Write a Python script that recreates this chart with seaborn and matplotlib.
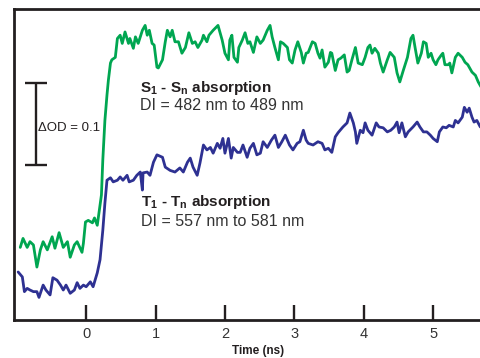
import seaborn as sns
import matplotlib.pyplot as plt
import pandas as pd

# S1-Sn trace (482-489 nm), time in ns, dOD
s1_time = [-0.95, -0.91, -0.85, -0.81, -0.76, -0.71, -0.66, -0.62, -0.56, -0.49,
           -0.45, -0.39, -0.33, -0.27, -0.23, -0.17, -0.13, -0.06, -0.04, -0.01,
           0.03, 0.09, 0.12, 0.16, 0.19, 0.22, 0.24, 0.27, 0.30, 0.32,
           0.35, 0.37, 0.42, 0.45, 0.49, 0.52, 0.56, 0.61, 0.63, 0.68,
           0.71, 0.75, 0.81, 0.85, 0.88, 0.91, 0.95, 0.98, 1.02, 1.04,
           1.10, 1.14, 1.17, 1.21, 1.24, 1.28, 1.33, 1.38, 1.43, 1.46,
           1.48, 1.53, 1.57, 1.61, 1.67, 1.69, 1.74, 1.77, 1.83, 1.90,
           1.96, 2.00, 2.05, 2.07, 2.10, 2.13, 2.18, 2.20, 2.25, 2.29,
           2.33, 2.36, 2.41, 2.46, 2.51, 2.55, 2.61, 2.65, 2.68, 2.72,
           2.77, 2.80, 2.84, 2.90, 2.93, 2.97, 3.01, 3.05, 3.10, 3.13,
           3.17, 3.20, 3.26, 3.30, 3.34, 3.37, 3.40, 3.44, 3.49, 3.52,
           3.54, 3.59, 3.63, 3.67, 3.72, 3.76, 3.79, 3.83, 3.88, 3.92,
           3.98, 4.02, 4.06, 4.09, 4.12, 4.16, 4.21, 4.24, 4.28, 4.34,
           4.38, 4.44, 4.48, 4.52, 4.57, 4.63, 4.65, 4.68, 4.71, 4.74,
           4.78, 4.83, 4.86, 4.90, 4.93, 4.97, 5.00, 5.04, 5.07, 5.12,
           5.14, 5.17, 5.22, 5.24, 5.27, 5.32, 5.36, 5.42, 5.46, 5.50,
           5.56, 5.61, 5.65, 5.69]
s1_od = [0.052, 0.063, 0.052, 0.059, 0.055, 0.028, 0.049, 0.059, 0.049, 0.065,
         0.051, 0.070, 0.052, 0.059, 0.040, 0.055, 0.059, 0.046, 0.057, 0.083,
         0.085, 0.082, 0.088, 0.079, 0.098, 0.116, 0.159, 0.207, 0.238, 0.256,
         0.277, 0.281, 0.284, 0.307, 0.311, 0.301, 0.315, 0.301, 0.307, 0.295,
         0.309, 0.301, 0.317, 0.323, 0.311, 0.317, 0.301, 0.299, 0.272, 0.271,
         0.281, 0.303, 0.317, 0.309, 0.317, 0.303, 0.303, 0.289, 0.296, 0.307,
         0.314, 0.301, 0.303, 0.296, 0.305, 0.311, 0.303, 0.311, 0.317, 0.323,
         0.305, 0.289, 0.281, 0.305, 0.311, 0.284, 0.278, 0.296, 0.305, 0.314,
         0.301, 0.303, 0.290, 0.309, 0.301, 0.305, 0.317, 0.323, 0.309, 0.296,
         0.281, 0.303, 0.301, 0.296, 0.281, 0.277, 0.293, 0.303, 0.290, 0.277,
         0.289, 0.290, 0.303, 0.301, 0.289, 0.283, 0.293, 0.272, 0.278, 0.290,
         0.289, 0.268, 0.281, 0.283, 0.287, 0.266, 0.268, 0.281, 0.296, 0.277,
         0.275, 0.284, 0.296, 0.299, 0.289, 0.295, 0.289, 0.277, 0.266, 0.281,
         0.290, 0.284, 0.265, 0.254, 0.268, 0.284, 0.293, 0.307, 0.311, 0.296,
         0.277, 0.289, 0.303, 0.301, 0.284, 0.289, 0.281, 0.275, 0.281, 0.287,
         0.289, 0.275, 0.275, 0.277, 0.265, 0.284, 0.289, 0.284, 0.278, 0.275,
         0.266, 0.262, 0.254, 0.248]

# T1-Tn trace (557-581 nm)
t1_time = [-0.98, -0.92, -0.89, -0.85, -0.81, -0.76, -0.71, -0.68, -0.62, -0.58,
           -0.52, -0.48, -0.42, -0.37, -0.33, -0.29, -0.23, -0.17, -0.13, -0.09,
           -0.04, 0.00, 0.06, 0.10, 0.16, 0.20, 0.24, 0.27, 0.30, 0.35,
           0.39, 0.45, 0.49, 0.53, 0.59, 0.62, 0.68, 0.73, 0.78, 0.81,
           0.82, 0.88, 0.92, 0.97, 1.02, 1.10, 1.14, 1.21, 1.28, 1.35,
           1.40, 1.46, 1.50, 1.54, 1.60, 1.64, 1.69, 1.74, 1.79, 1.83,
           1.89, 1.93, 1.97, 2.00, 2.05, 2.09, 2.12, 2.18, 2.22, 2.26,
           2.32, 2.36, 2.41, 2.46, 2.51, 2.55, 2.61, 2.67, 2.72, 2.77,
           2.82, 2.87, 2.93, 2.98, 3.04, 3.08, 3.13, 3.17, 3.20, 3.27,
           3.34, 3.40, 3.44, 3.49, 3.54, 3.59, 3.63, 3.70, 3.76, 3.80,
           3.85, 3.88, 3.90, 3.95, 3.99, 4.02, 4.06, 4.12, 4.18, 4.22,
           4.28, 4.34, 4.39, 4.44, 4.48, 4.51, 4.55, 4.60, 4.64, 4.71,
           4.77, 4.81, 4.86, 4.91, 4.96, 5.00, 5.06, 5.09, 5.14, 5.19,
           5.23, 5.29, 5.32, 5.36, 5.42, 5.45, 5.49, 5.52, 5.56, 5.59,
           5.63, 5.68]
t1_od = [0.022, 0.016, -0.002, 0.002, 0.000, -0.002, -0.002, -0.009, 0.006, 0.000,
         -0.006, 0.015, 0.012, 0.006, 0.000, 0.006, -0.004, 0.000, 0.009, 0.002,
         0.006, 0.004, 0.010, 0.004, 0.021, 0.037, 0.073, 0.106, 0.134, 0.137,
         0.132, 0.134, 0.138, 0.134, 0.140, 0.132, 0.134, 0.140, 0.144, 0.122,
         0.143, 0.144, 0.140, 0.156, 0.165, 0.162, 0.150, 0.146, 0.144, 0.149,
         0.144, 0.156, 0.161, 0.150, 0.140, 0.155, 0.177, 0.171, 0.174, 0.167,
         0.179, 0.173, 0.185, 0.167, 0.185, 0.161, 0.174, 0.168, 0.168, 0.177,
         0.162, 0.173, 0.179, 0.165, 0.167, 0.181, 0.174, 0.183, 0.189, 0.174,
         0.181, 0.189, 0.177, 0.171, 0.179, 0.181, 0.195, 0.183, 0.179, 0.177,
         0.181, 0.179, 0.171, 0.173, 0.168, 0.187, 0.192, 0.199, 0.204, 0.216,
         0.204, 0.193, 0.179, 0.195, 0.192, 0.204, 0.195, 0.189, 0.204, 0.199,
         0.198, 0.193, 0.195, 0.199, 0.205, 0.192, 0.204, 0.187, 0.193, 0.199,
         0.205, 0.199, 0.193, 0.193, 0.189, 0.185, 0.181, 0.193, 0.199, 0.198,
         0.201, 0.199, 0.207, 0.204, 0.211, 0.223, 0.217, 0.222, 0.211, 0.205,
         0.207, 0.199]

xticks = [0, 1, 2, 3, 4, 5]

s1_df = pd.DataFrame({'Time': s1_time, 'OD': s1_od})
t1_df = pd.DataFrame({'Time': t1_time, 'OD': t1_od})

sns.set_style('ticks')
plt.rcParams['font.family'] = ['Liberation Sans', 'DejaVu Sans']
plt.rcParams['mathtext.fontset'] = 'custom'
plt.rcParams['mathtext.rm'] = 'Liberation Sans'
plt.rcParams['mathtext.bf'] = 'Liberation Sans:bold'

txt = '#231f20'
green = '#00a651'
blue = '#2e3192'

fig = plt.figure(figsize=(4.81, 3.58), dpi=100)
ax = fig.add_axes([14/481, 38/358, 467/481, 311/358])

sns.lineplot(x='Time', y='OD', data=s1_df, color=green, lw=2.0, ax=ax, sort=False,
             solid_joinstyle='round', solid_capstyle='round')
sns.lineplot(x='Time', y='OD', data=t1_df, color=blue, lw=2.0, ax=ax, sort=False,
             solid_joinstyle='round', solid_capstyle='round')

ax.set_xlim(-1.04, 5.69)
ax.set_ylim(-0.0366, 0.343)
ax.set_xticks(xticks)
ax.set_xticklabels([str(v) for v in xticks])
ax.set_yticks([])
ax.set_xlabel('')
ax.set_ylabel('')
ax.tick_params(axis='x', direction='in', length=10.5, width=1.7, pad=5,
               labelsize=10.5, labelcolor='#333333', color=txt)

for side in ['left', 'top', 'bottom']:
    ax.spines[side].set_linewidth(2.0)
    ax.spines[side].set_color(txt)
ax.spines['right'].set_visible(False)

# scale bar
ax.errorbar([-0.73], [0.2025], yerr=[0.05], color=txt, lw=1.7, capsize=8,
            capthick=1.7)
ax.text(0.051, 0.617, '\u0394OD = 0.1', transform=ax.transAxes, fontsize=9.5,
        color=txt, ha='left', va='center')

ax.text(0.270, 0.746, r'$\mathbf{S}_{\mathbf{1}}$ - $\mathbf{S}_{\mathbf{n}}$ absorption',
        transform=ax.transAxes, fontsize=11, fontweight='bold', color=txt,
        ha='left', va='center')
ax.text(0.270, 0.691, 'DI = 482 nm to 489 nm', transform=ax.transAxes,
        fontsize=11.5, color='#333333', ha='left', va='center')
ax.text(0.272, 0.379, r'$\mathbf{T}_{\mathbf{1}}$ - $\mathbf{T}_{\mathbf{n}}$ absorption',
        transform=ax.transAxes, fontsize=11, fontweight='bold', color=txt,
        ha='left', va='center')
ax.text(0.272, 0.318, 'DI = 557 nm to 581 nm', transform=ax.transAxes,
        fontsize=11.5, color='#333333', ha='left', va='center')

ax.text(0.522, -0.0997, 'Time (ns)', transform=ax.transAxes, fontsize=8.5,
        fontweight='bold', color=txt, ha='center', va='center')

plt.savefig('out.png', dpi=100)
